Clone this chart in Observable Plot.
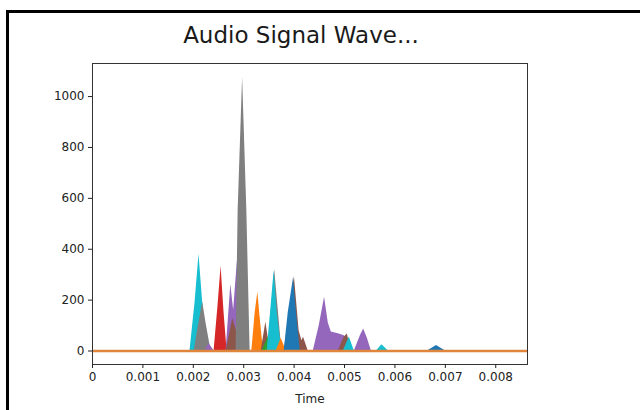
<!DOCTYPE html>
<html>
<head>
<meta charset="utf-8">
<script src="https://cdn.jsdelivr.net/npm/d3@7"></script>
<script src="https://cdn.jsdelivr.net/npm/@observablehq/plot@0.6"></script>
<style>
  body { margin: 0; background: #fff; }
  #wrap { position: relative; width: 640px; height: 410px; overflow: hidden; background: #fff; }
  #border { position: absolute; left: 6px; top: 10px; width: 700px; height: 500px;
            border-left: 3px solid #000; border-top: 3px solid #000; }
  #title { position: absolute; left: 0; top: 22px; width: 602px; text-align: center;
           font-family: "DejaVu Sans", sans-serif; font-size: 23px; color: #1a1a1a; }
  #chart { position: absolute; left: 0; top: 0; }
</style>
</head>
<body>
<div id="wrap">
  <div id="border"></div>
  <div id="chart"></div>
  <div id="title">Audio Signal Wave...</div>
</div>
<script>
// ---- data (time in seconds, amplitude) ----
const xTicks = [0, 0.001, 0.002, 0.003, 0.004, 0.005, 0.006, 0.007, 0.008];
const yTicks = [0, 200, 400, 600, 800, 1000];

const cyan1   = [[0.001934,0],[0.002034,190],[0.002113,380],[0.002194,170],[0.002252,0]];
const gray1   = [[0.002018,0],[0.002093,90],[0.002187,192],[0.002252,110],[0.002352,0]];
const purple0 = [[0.002232,0],[0.002312,30],[0.002412,0]];
const red1    = [[0.002412,0],[0.002491,180],[0.002551,333],[0.002610,150],[0.002670,0]];
const purple1 = [[0.002650,0],[0.002744,261],[0.002800,160],[0.002875,355],[0.002949,200],[0.003048,0]];
const brown1  = [[0.002650,0],[0.002783,128],[0.002900,50],[0.003030,0]];
const gray2   = [[0.002849,0],[0.002889,550],[0.002978,1075],[0.003062,550],[0.003127,0]];
const orange1 = [[0.003161,0],[0.003227,150],[0.003280,231],[0.003326,130],[0.003392,0]];
const brown2  = [[0.003346,0],[0.003439,113],[0.003525,0]];
const green1  = [[0.003366,0],[0.003485,55],[0.003604,0]];
const gray3   = [[0.003485,0],[0.003614,320],[0.003757,0]];
const cyan2   = [[0.003465,0],[0.003545,180],[0.003604,316],[0.003664,150],[0.003757,0]];
const orange2 = [[0.003644,0],[0.003744,50],[0.003843,0]];
const brown3  = [[0.003803,0],[0.004006,293],[0.004099,80],[0.004155,40],[0.004187,54],[0.004280,0]];
const blue1   = [[0.003803,0],[0.003883,150],[0.003988,288],[0.004042,160],[0.004121,0]];
const purple2 = [[0.004380,0],[0.004499,100],[0.004604,211],[0.004678,110],[0.004738,75],[0.004877,68],[0.004996,60],[0.005076,30],[0.005155,0]];
const brown4  = [[0.004877,0],[0.004996,55],[0.005056,67],[0.005135,0]];
const cyan3   = [[0.004976,0],[0.005095,55],[0.005195,0]];
const purple3 = [[0.005195,0],[0.005314,60],[0.005380,87],[0.005453,50],[0.005533,0]];
const cyan4   = [[0.005632,0],[0.005742,25],[0.005871,0]];
const blue2   = [[0.006646,0],[0.006825,22],[0.007004,0]];

const baseline = [0];

// draw order (back to front) and tab10 colours
const seriesOrder  = [cyan1, gray1, purple0, red1, purple1, brown1, gray2, orange1, brown2, green1, gray3, cyan2, orange2, brown3, blue1, purple2, brown4, cyan3, purple3, cyan4, blue2];
const seriesColors = ["#17becf","#7f7f7f","#9467bd","#d62728","#9467bd","#8c564b","#7f7f7f","#ff7f0e","#8c564b","#2ca02c","#7f7f7f","#17becf","#ff7f0e","#8c564b","#1f77b4","#9467bd","#8c564b","#17becf","#9467bd","#17becf","#1f77b4"];

const areaMarks = seriesOrder.map((pts, i) =>
  Plot.areaY(pts, {x: d => d[0], y: d => d[1], fill: seriesColors[i], curve: "linear"})
);

const chart = Plot.plot({
  width: 640,
  height: 410,
  marginTop: 63,
  marginBottom: 46,
  marginLeft: 92,
  marginRight: 113,
  style: {fontFamily: "DejaVu Sans, sans-serif", fontSize: "12px", background: "transparent", color: "#222"},
  x: {domain: [0, 0.00863]},
  y: {domain: [-53, 1130]},
  marks: [
    ...areaMarks,
    Plot.ruleY(baseline, {stroke: "#e0863c", strokeWidth: 2.5}),
    Plot.frame({stroke: "#333"}),
    Plot.axisY({ticks: yTicks, tickFormat: d => String(d), tickSize: 4, tickPadding: 4, label: null}),
    Plot.axisX({ticks: xTicks, tickFormat: d => d === 0 ? "0" : d3.format(".3f")(d),
                tickSize: 4, tickPadding: 4, label: "Time", labelAnchor: "center",
                labelOffset: 38, labelArrow: "none"})
  ]
});
document.getElementById("chart").appendChild(chart);
</script>
</body>
</html>
